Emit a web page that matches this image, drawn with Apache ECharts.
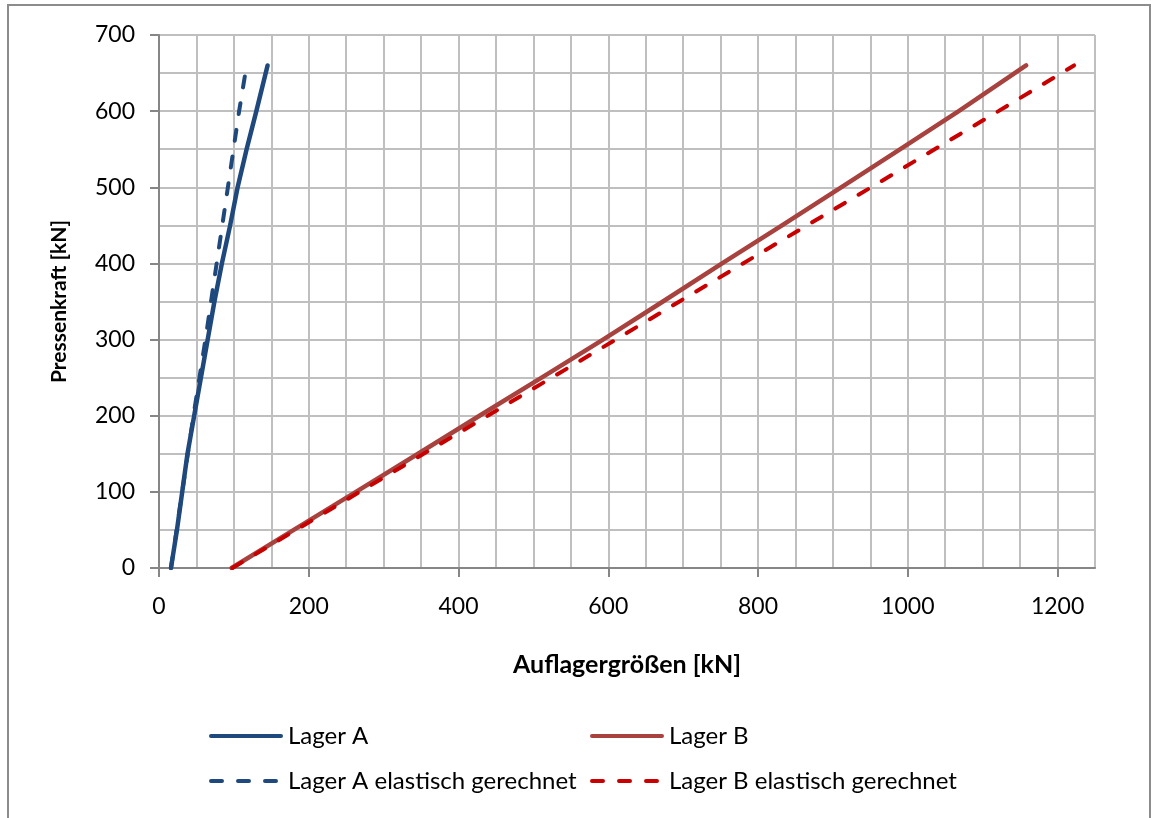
<!DOCTYPE html>
<html>
<head>
<meta charset="utf-8">
<script src="https://cdn.jsdelivr.net/npm/echarts@6/dist/echarts.min.js"></script>
<style>
  html, body { margin: 0; padding: 0; background: #ffffff; }
  #chart { width: 1151px; height: 818px; }
</style>
</head>
<body>
<div id="chart"></div>
<script>
// Pressenkraft [kN] for each measured / computed point
const forceA = [0, 50, 100, 150, 200, 250, 300, 350, 400, 450, 500, 550, 600, 660];
const lagerA = [16, 24, 31, 38, 47, 56, 65, 74, 84, 95, 105, 117, 130, 145];

const forceAel = [0, 100, 200, 300, 400, 500, 600, 660];
const lagerAel = [16, 31, 46, 62, 77, 92, 107, 117];

const forceB = [0, 50, 100, 150, 200, 250, 300, 350, 400, 450, 500, 550, 600, 660];
const lagerB = [97, 180, 263, 346, 428, 511, 593, 673, 752, 832, 911, 990, 1068, 1158];

const forceBel = [0, 100, 200, 300, 400, 500, 600, 660];
const lagerBel = [98, 268, 439, 610, 780, 951, 1121, 1222];

const seriesNames = ['Lager A', 'Lager B', 'Lager A elastisch gerechnet', 'Lager B elastisch gerechnet'];

const FONT = 'Lato, "Liberation Sans", sans-serif';

function pairs(xs, ys) {
  return xs.map((x, i) => [x, ys[i]]);
}

const chart = echarts.init(document.getElementById('chart'), null, { renderer: 'canvas' });

const gridColor = '#BFBFBF';
const axisColor = '#868686';

function legendAt(name, left, top) {
  return {
    data: [name],
    left: left,
    top: top,
    padding: 0,
    itemWidth: 70,
    itemHeight: 14,
    itemGap: 0,
    itemStyle: { opacity: 0 },
    lineStyle: { width: 4 },
    textStyle: { fontFamily: FONT, fontSize: 24, color: '#000', padding: [0, 0, 0, 2] }
  };
}

const plainNumber = v => String(v);

chart.setOption({
  animation: false,
  backgroundColor: '#ffffff',
  graphic: [{
    type: 'rect',
    shape: { x: 8, y: 5, width: 1142, height: 900 },
    style: { fill: 'none', stroke: '#8C8C8C', lineWidth: 2 },
    silent: true,
    z: -10
  }],
  grid: { left: 159, top: 35, width: 936, height: 533, containLabel: false },
  legend: [
    legendAt(seriesNames[0], 209, 724),
    legendAt(seriesNames[1], 590, 724),
    legendAt(seriesNames[2], 209, 769),
    legendAt(seriesNames[3], 590, 769)
  ],
  xAxis: [{
    type: 'value', min: 0, max: 1250, interval: 50,
    axisLine: { show: true, onZero: false, lineStyle: { color: axisColor, width: 2 } },
    axisTick: { show: false },
    axisLabel: { show: false },
    splitLine: { show: true, lineStyle: { color: gridColor, width: 2 } }
  }, {
    type: 'value', min: 0, max: 1250, interval: 200, position: 'bottom',
    axisLine: { show: false },
    axisTick: { show: true, inside: false, length: 9, lineStyle: { color: axisColor, width: 2 } },
    axisLabel: { show: true, margin: 27, color: '#000', fontFamily: FONT, fontSize: 23, formatter: plainNumber },
    splitLine: { show: false },
    name: 'Auflagergrößen [kN]',
    nameLocation: 'middle',
    nameGap: 84,
    nameTextStyle: { fontFamily: FONT, fontSize: 25, fontWeight: 'bold', color: '#000' }
  }],
  yAxis: [{
    type: 'value', min: 0, max: 700, interval: 50,
    axisLine: { show: true, onZero: false, lineStyle: { color: axisColor, width: 2 } },
    axisTick: { show: false },
    axisLabel: { show: false },
    splitLine: { show: true, lineStyle: { color: gridColor, width: 2 } }
  }, {
    type: 'value', min: 0, max: 700, interval: 100, position: 'left',
    axisLine: { show: false },
    axisTick: { show: true, inside: false, length: 9, lineStyle: { color: axisColor, width: 2 } },
    axisLabel: { show: true, margin: 24, color: '#000', fontFamily: FONT, fontSize: 23, formatter: plainNumber },
    splitLine: { show: false },
    name: 'Pressenkraft [kN]',
    nameLocation: 'middle',
    nameGap: 89,
    nameRotate: 90,
    nameTextStyle: { fontFamily: FONT, fontSize: 21, fontWeight: 'bold', color: '#000' }
  }],
  series: [{
    name: seriesNames[0], type: 'line', xAxisIndex: 0, yAxisIndex: 0,
    data: pairs(lagerA, forceA), symbol: 'none', smooth: false,
    lineStyle: { color: '#1F497D', width: 4.5, cap: 'round', join: 'round' },
    itemStyle: { color: '#1F497D' }
  }, {
    name: seriesNames[1], type: 'line', xAxisIndex: 0, yAxisIndex: 0,
    data: pairs(lagerB, forceB), symbol: 'none',
    lineStyle: { color: '#A8423F', width: 4.5, cap: 'round', join: 'round' },
    itemStyle: { color: '#A8423F' }
  }, {
    name: seriesNames[2], type: 'line', xAxisIndex: 0, yAxisIndex: 0,
    data: pairs(lagerAel, forceAel), symbol: 'none',
    lineStyle: { color: '#1F497D', width: 4, type: [11, 16], cap: 'round' },
    itemStyle: { color: '#1F497D' }
  }, {
    name: seriesNames[3], type: 'line', xAxisIndex: 0, yAxisIndex: 0,
    data: pairs(lagerBel, forceBel), symbol: 'none',
    lineStyle: { color: '#C80000', width: 4, type: [11, 16], cap: 'round' },
    itemStyle: { color: '#C80000' }
  }]
});
</script>
</body>
</html>
